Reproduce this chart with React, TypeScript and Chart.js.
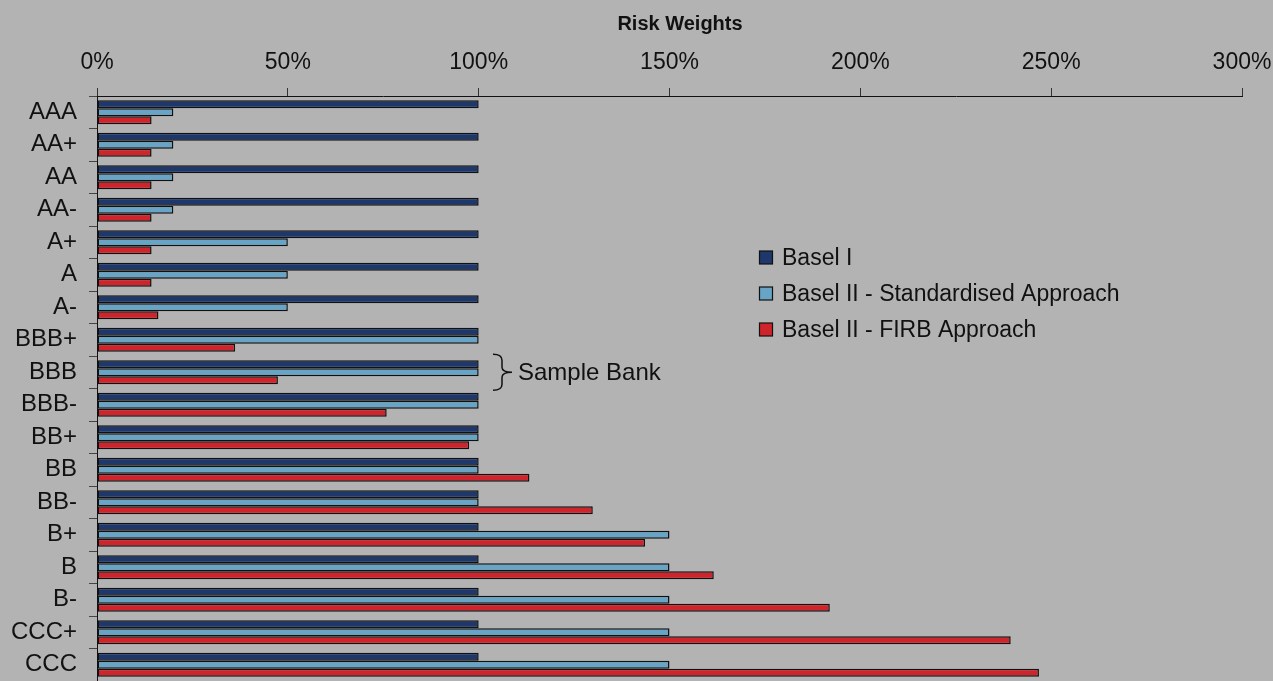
import React, { useEffect, useRef } from "react";
import { Chart, registerables } from "chart.js";

Chart.register(...registerables);

const categories = ["AAA", "AA+", "AA", "AA-", "A+", "A", "A-", "BBB+", "BBB", "BBB-", "BB+", "BB", "BB-", "B+", "B", "B-", "CCC+", "CCC"];
const basel1 = [100, 100, 100, 100, 100, 100, 100, 100, 100, 100, 100, 100, 100, 100, 100, 100, 100, 100];
const standardised = [20, 20, 20, 20, 50, 50, 50, 100, 100, 100, 100, 100, 100, 150, 150, 150, 150, 150];
const firb = [14.3, 14.3, 14.3, 14.3, 14.3, 14.3, 16.1, 36.2, 47.4, 75.9, 97.5, 113.3, 129.9, 143.6, 161.6, 192, 239.4, 246.8];
const seriesNames = ["Basel I", "Basel II - Standardised Approach", "Basel II - FIRB Approach"];
const seriesColors = ["#1f386c", "#68a4c6", "#d0242c"];
const xTicks = [0, 50, 100, 150, 200, 250, 300];
const titleText = "Risk Weights";
const annotationText = "Sample Bank";
const annotationCategory = "BBB";

const FONT = "'Liberation Sans', Arial, sans-serif";

const overlayPlugin = {
  id: "overlay",
  afterDraw(chart: any) {
    const ctx = chart.ctx as CanvasRenderingContext2D;
    const yScale = chart.scales.y;
    ctx.save();
    // title
    ctx.fillStyle = "#111";
    ctx.font = `bold 20px ${FONT}`;
    ctx.textAlign = "center";
    ctx.textBaseline = "middle";
    ctx.fillText(titleText, 680, 24);

    // legend
    ctx.font = `23px ${FONT}`;
    ctx.textAlign = "left";
    seriesNames.forEach((name, i) => {
      const cy = 258 + i * 36;
      ctx.fillStyle = seriesColors[i];
      ctx.fillRect(759.5, cy - 7, 13, 13);
      ctx.strokeStyle = "#111";
      ctx.lineWidth = 1.2;
      ctx.strokeRect(759.5, cy - 7, 13, 13);
      ctx.fillStyle = "#111";
      ctx.fillText(name, 782, cy + 1);
    });

    // annotation brace
    const idx = categories.indexOf(annotationCategory);
    const cy = yScale.getPixelForValue(idx);
    const x0 = 493, xm = 502, xt = 512;
    const top = cy - 18, bot = cy + 18;
    ctx.strokeStyle = "#111";
    ctx.lineWidth = 1.5;
    ctx.beginPath();
    ctx.moveTo(x0, top);
    ctx.quadraticCurveTo(xm, top, xm, top + 6);
    ctx.lineTo(xm, cy - 5);
    ctx.quadraticCurveTo(xm, cy, xt, cy);
    ctx.quadraticCurveTo(xm, cy, xm, cy + 5);
    ctx.lineTo(xm, bot - 6);
    ctx.quadraticCurveTo(xm, bot, x0, bot);
    ctx.stroke();
    ctx.fillStyle = "#111";
    ctx.font = `24px ${FONT}`;
    ctx.textAlign = "left";
    ctx.textBaseline = "middle";
    ctx.fillText(annotationText, 518, cy + 1);
    ctx.restore();
  },
};

export default function App() {
  const ref = useRef<HTMLCanvasElement>(null);
  useEffect(() => {
    if (!ref.current) return;
    const chart = new Chart(ref.current, {
      type: "bar",
      data: {
        labels: categories,
        datasets: [basel1, standardised, firb].map((d, i) => ({
          label: seriesNames[i],
          data: d,
          backgroundColor: seriesColors[i],
          borderColor: "#111",
          borderWidth: 1.5,
          borderSkipped: false,
          categoryPercentage: 0.74,
          barPercentage: 1.0,
        })),
      },
      options: {
        indexAxis: "y",
        animation: false,
        responsive: true,
        maintainAspectRatio: false,
        layout: { padding: { left: 0, right: 31, top: 0, bottom: 0 } },
        plugins: {
          legend: { display: false },
          title: { display: false },
          tooltip: { enabled: false },
        },
        scales: {
          x: {
            position: "top",
            min: 0,
            max: 300,
            afterBuildTicks: (scale: any) => {
              scale.ticks = xTicks.map((v) => ({ value: v }));
            },
            afterFit: (scale: any) => {
              scale.height = 96;
              scale.paddingLeft = 0;
              scale.paddingRight = 0;
            },
            ticks: {
              callback: (v: any) => `${v}%`,
              font: { family: FONT, size: 23 },
              color: "#111",
              padding: 12,
              maxRotation: 0,
              autoSkip: false,
            },
            grid: {
              drawOnChartArea: false,
              drawTicks: true,
              tickLength: 8,
              color: "#333",
            },
            border: { display: true, color: "#111", width: 1 },
          },
          y: {
            afterFit: (scale: any) => {
              scale.width = 97;
              scale.paddingTop = 0;
              scale.paddingBottom = 0;
            },
            ticks: {
              font: { family: FONT, size: 24 },
              color: "#111",
              padding: 12,
              autoSkip: false,
            },
            grid: {
              drawOnChartArea: false,
              drawTicks: true,
              tickLength: 8,
              color: "#444",
              offset: true,
            },
            border: { display: true, color: "#111", width: 1 },
          },
        },
      },
      plugins: [overlayPlugin],
    } as any);
    return () => chart.destroy();
  }, []);

  return (
    <div style={{ position: "fixed", left: 0, top: 0, width: 1273, height: 681, background: "#b3b3b3" }}>
      <canvas ref={ref} />
    </div>
  );
}
